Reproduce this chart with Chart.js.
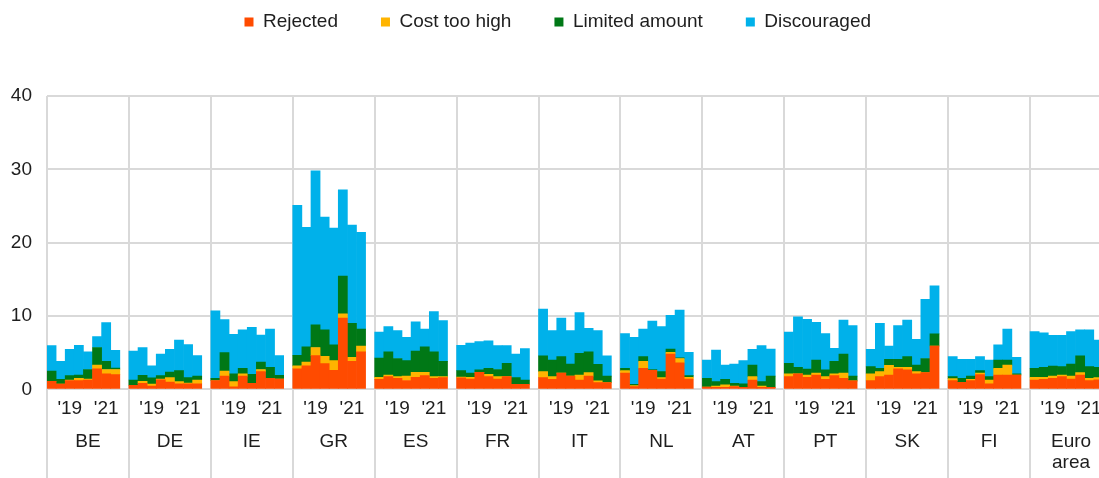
<!DOCTYPE html>
<html>
<head>
<meta charset="utf-8">
<script src="https://cdn.jsdelivr.net/npm/chart.js@4.4.1/dist/chart.umd.min.js"></script>
<style>
  html, body { margin: 0; padding: 0; background: #fff; overflow: hidden; width: 1099px; height: 478px; }
  #wrap { width: 1122px; height: 478px; }
  canvas { display: block; }
</style>
</head>
<body>
<div id="wrap"><canvas id="c" width="1122" height="478" style="width:1122px;height:478px"></canvas></div>
<script>
// Countries (groups of 8 survey rounds each)
const countries = ["BE", "DE", "IE", "GR", "ES", "FR", "IT", "NL", "AT", "PT", "SK", "FI", "Euro area"];
// Tick labels for the 8 rounds inside each country group
const roundTicks = ["", "", "'19", "", "", "", "'21", ""];

// Series values, percentages, 8 rounds per country in the order of `countries`
const rejected = [
  1.1, 0.7, 1.2, 1.18, 1.27, 2.8, 2.1, 2.0,      // BE
  0.55, 0.8, 0.45, 1.3, 1.0, 0.73, 0.73, 0.73,   // DE
  1.2, 1.8, 0.35, 1.8, 0.8, 2.4, 1.5, 1.4,       // IE
  2.8, 3.2, 4.6, 3.5, 2.6, 9.7, 3.8, 5.1,        // GR
  1.36, 1.73, 1.5, 1.2, 1.64, 1.86, 1.5, 1.6,    // ES
  1.55, 1.4, 2.3, 1.73, 1.4, 1.73, 0.68, 0.68,   // FR
  1.6, 1.36, 2.2, 1.8, 1.27, 1.8, 0.9, 0.9,      // IT
  2.2, 0.36, 2.86, 2.6, 1.4, 4.8, 3.6, 1.4,      // NL
  0.3, 0.27, 0.27, 0.36, 0.27, 1.27, 0.27, 0.27, // AT
  1.73, 2.1, 1.64, 1.95, 1.36, 1.86, 1.5, 1.14,  // PT
  1.18, 1.73, 1.95, 2.8, 2.64, 2.1, 2.27, 5.9,   // SK
  1.18, 0.95, 1.18, 2.0, 0.73, 1.95, 1.95, 1.95, // FI
  1.27, 1.36, 1.5, 1.73, 1.4, 1.95, 1.18, 1.3    // Euro area
];
const costTooHigh = [
  0, 0, 0.07, 0.32, 0.13, 0.5, 0.6, 0.7,
  0, 0.3, 0.25, 0.1, 0.6, 0.32, 0.13, 0.54,
  0, 0.7, 0.7, 0.3, 0, 0.3, 0, 0,
  0.4, 0.5, 1.1, 1.0, 1.3, 0.6, 0.56, 0.8,
  0.28, 0.22, 0.23, 0.6, 0.66, 0.44, 0.23, 0.13,
  0.1, 0.24, 0, 0.32, 0.33, 0, 0, 0,
  0.8, 0.37, 0, 0, 0.68, 0.47, 0.24, 0,
  0.35, 0.14, 0.94, 0, 0.2, 0.25, 0.6, 0.24,
  0, 0.18, 0.33, 0.09, 0, 0.46, 0.18, 0,
  0.37, 0, 0.31, 0.25, 0.37, 0.24, 0.7, 0,
  0.92, 0.67, 1.32, 0.2, 0.36, 0.3, 0, 0,
  0.27, 0, 0.18, 0.2, 0.54, 0.91, 1.35, 0,
  0.37, 0.28, 0.3, 0.22, 0.4, 0.32, 0.32, 0.3
];
const limitedAmount = [
  1.4, 0.66, 0.59, 0.45, 1.3, 2.4, 1.1, 0.2,
  0.72, 0.8, 0.85, 0.46, 0.76, 1.5, 0.74, 0.53,
  0.3, 2.5, 1.05, 0.76, 1.25, 1.0, 1.5, 0.5,
  1.44, 2.1, 3.1, 3.6, 2.15, 5.15, 4.64, 2.3,
  2.63, 3.15, 2.47, 2.1, 2.9, 3.5, 3.37, 2.07,
  0.9, 0.56, 0.34, 0.81, 0.97, 1.82, 0.92, 0.59,
  2.15, 2.27, 2.25, 1.65, 2.95, 2.83, 2.26, 0.9,
  0.31, 0.18, 0.65, 0.1, 0.8, 0.45, 0.1, 0.22,
  1.2, 0.6, 0.76, 0.35, 0.46, 1.57, 0.6, 1.53,
  1.45, 0.9, 0.82, 1.8, 0.91, 1.7, 2.6, 0.66,
  1.0, 0.46, 0.83, 1.1, 1.45, 0.9, 1.93, 1.65,
  0.28, 0.55, 0.44, 0.35, 0.46, 1.14, 0.7, 0.15,
  1.22, 1.36, 1.38, 1.15, 1.65, 2.28, 1.6, 1.4
];
const discouraged = [
  3.45, 2.44, 3.59, 4.05, 2.4, 1.5, 5.3, 2.4,
  3.93, 3.8, 1.65, 2.94, 3.09, 4.15, 4.5, 2.8,
  9.2, 4.5, 5.4, 5.24, 6.4, 3.7, 5.2, 2.7,
  20.46, 16.3, 21.0, 15.4, 15.95, 11.75, 13.4, 13.2,
  3.53, 3.45, 3.8, 3.2, 4.0, 2.4, 5.5, 5.56,
  3.45, 4.1, 3.86, 3.74, 3.25, 2.4, 3.2, 4.28,
  6.4, 4.0, 5.25, 4.55, 5.55, 3.2, 4.6, 2.75,
  4.74, 6.42, 3.75, 6.6, 6.15, 4.6, 6.5, 3.19,
  2.5, 4.31, 1.94, 2.65, 3.17, 2.15, 4.9, 3.7,
  4.25, 6.9, 6.78, 5.14, 4.96, 1.8, 4.65, 6.9,
  2.35, 6.14, 1.8, 4.6, 5.0, 3.5, 8.07, 6.55,
  2.72, 2.6, 2.3, 1.9, 2.27, 2.05, 4.2, 2.26,
  5.0, 4.7, 4.18, 4.26, 4.41, 3.55, 5.0, 3.7
];
const yTicks = [0, 10, 20, 30, 40];

// ---- build the category table: 8 bars + 1 empty slot per country ----
// Label lines: line 0 = round tick, line 3 = country name (line 5 for a second word)
const PER = roundTicks.length;
const SLOT = PER + 1;
const labels = [];
countries.forEach((c) => {
  for (let i = 0; i < SLOT; i++) {
    const lines = [i < PER ? roundTicks[i] : ""];
    if (i === 4) {
      const words = c.split(" ");
      lines.push("", "", words[0]);
      for (let k = 1; k < words.length; k++) lines.push("", words[k]);
    }
    labels.push(lines);
  }
});
function spread(arr) {
  const out = [];
  countries.forEach((c, g) => {
    for (let i = 0; i < SLOT; i++) out.push(i < PER ? arr[g * PER + i] : null);
  });
  return out;
}

const FONT = "'Liberation Sans', Arial, sans-serif";
const TXT = '#1e1e1e';
const GRID = '#d9d9d9';

new Chart(document.getElementById('c'), {
  type: 'bar',
  data: {
    labels: labels,
    datasets: [
      { label: 'Rejected', data: spread(rejected), backgroundColor: '#ff4b00' },
      { label: 'Cost too high', data: spread(costTooHigh), backgroundColor: '#ffb400' },
      { label: 'Limited amount', data: spread(limitedAmount), backgroundColor: '#007816' },
      { label: 'Discouraged', data: spread(discouraged), backgroundColor: '#00b1ea' }
    ]
  },
  options: {
    responsive: false,
    animation: false,
    devicePixelRatio: 1,
    datasets: { bar: { barPercentage: 1, categoryPercentage: 1, borderWidth: 0 } },
    layout: { padding: { top: -30.5, right: 6.5, bottom: 0, left: 0 } },
    plugins: {
      legend: {
        position: 'top',
        labels: { boxWidth: 9, boxHeight: 9, padding: 43, color: TXT, font: { family: FONT, size: 19 } }
      },
      title: { display: true, text: ' ', weight: 500, font: { size: 19, lineHeight: 1 }, padding: { top: 0, bottom: 35.5 } },
      tooltip: { enabled: false }
    },
    scales: {
      x: {
        stacked: true,
        offset: true,
        border: { display: false },
        grid: {
          offset: true,
          lineWidth: 2,
          tickLength: 88.7,
          color: (ctx) => (ctx.index !== undefined && ctx.index % SLOT === 0) ? GRID : 'rgba(0,0,0,0)'
        },
        ticks: {
          autoSkip: false, maxRotation: 0, minRotation: 0,
          padding: -74.4,
          color: TXT,
          font: { family: FONT, size: 19, lineHeight: 10.833 / 19 }
        },
        afterFit: (s) => { s.height = 88.7; s.paddingLeft = 0; s.paddingRight = 10; }
      },
      y: {
        stacked: true,
        min: 0, max: 40,
        border: { display: false },
        grid: { color: GRID, lineWidth: 2, drawTicks: false },
        afterBuildTicks: (s) => { s.ticks = yTicks.map(v => ({ value: v })); },
        ticks: { padding: 15, color: TXT, font: { family: FONT, size: 19 } },
        afterFit: (s) => { s.width = 47; }
      }
    }
  }
});
</script>
</body>
</html>
